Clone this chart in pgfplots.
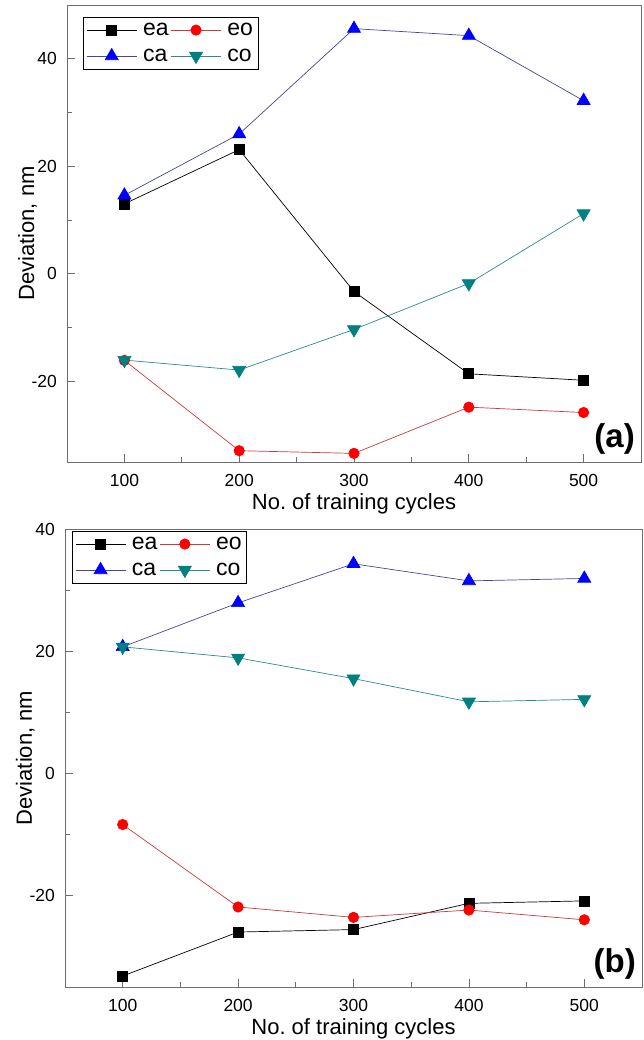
\documentclass[border=0pt]{standalone}
\usepackage{fontspec}
\setmainfont{Liberation Sans}
\usepackage{pgfplots}
\pgfplotsset{compat=1.18}
\frenchspacing
\definecolor{caline}{RGB}{70,70,160}
\definecolor{tealm}{RGB}{0,128,128}
\definecolor{coline}{RGB}{40,140,140}
\definecolor{eoline}{RGB}{200,60,60}
\definecolor{axgray}{RGB}{110,110,110}
\pgfplotsset{
 mystyle/.style={
  scale only axis,
  xmin=50, xmax=550, ymin=-35,
  xtick={100,200,300,400,500},
  ytick={-20,0,20,40},
  minor x tick num=1,
  minor y tick num=1,
  tick align=inside,
  xtick pos=bottom, ytick pos=left,
  axis line style={axgray, line width=0.9pt},
  every tick/.style={axgray, line width=0.8pt},
  major tick length=8pt, minor tick length=5pt,
  /pgf/number format/assume math mode=true,
  ticklabel style={font=\fontsize{17.5}{20}\selectfont},
  xticklabel style={inner sep=0pt, yshift=-12pt},
  yticklabel style={inner sep=0pt, xshift=-10pt},
  label style={font=\fontsize{22}{26}\selectfont},
  xlabel={No.\ of training cycles},
  ylabel={Deviation, nm},
  legend columns=2,
  legend cell align=left,
  legend style={draw=black, line width=0.6pt, inner xsep=3pt, inner ysep=4pt,
    row sep=8pt,
    font=\fontsize{23}{25}\selectfont, anchor=north west,
    /tikz/every odd column/.append style={column sep=4pt}},
  legend image code/.code={\draw[mark repeat=2,mark phase=2] plot coordinates {(0pt,0pt)(25pt,0pt)(50pt,0pt)};},
 },
 sea/.style={black, line width=0.7pt, mark=square*, mark size=5pt, mark options={fill=black, draw=black}},
 seo/.style={eoline, line width=0.7pt, mark=*, mark size=5.2pt, mark options={fill=red, draw=red}},
 sca/.style={caline, line width=0.7pt, mark=triangle*, mark size=7.5pt, mark options={fill=blue, draw=blue}},
 sco/.style={coline, line width=0.7pt, mark=triangle*, mark size=7.5pt, mark options={fill=tealm, draw=tealm, rotate=180}},
}
\begin{document}
\begin{tikzpicture}
\useasboundingbox (0pt,0pt) rectangle (644pt,1040pt);
% top panel (a)
\begin{axis}[mystyle,
  at={(67pt,578pt)}, anchor=south west,
  width=574pt, height=457pt,
  ymax=50,
  legend style={at={(axis description cs:0.028,0.974)}},
  xlabel style={at={(axis description cs:0.5,-0.105)}, anchor=base},
  ylabel style={at={(axis description cs:-0.052,0.5)}, anchor=south, inner sep=0pt},
]
\addplot[sea] coordinates {(100,13.0)(200,23.1)(300,-3.3)(400,-18.6)(500,-19.8)};
\addlegendentry{ea}
\addplot[seo] coordinates {(100,-16.1)(200,-32.9)(300,-33.4)(400,-24.8)(500,-25.8)};
\addlegendentry{eo}
\addplot[sca] coordinates {(100,14.6)(200,26.0)(300,45.6)(400,44.3)(500,32.2)};
\addlegendentry{ca}
\addplot[sco] coordinates {(100,-16.05)(200,-17.9)(300,-10.35)(400,-1.8)(500,11.2)};
\addlegendentry{co}
\node[anchor=south east, inner sep=0pt, font=\fontsize{33}{36}\selectfont\bfseries, xshift=-6pt, yshift=7pt] at (rel axis cs:1,0) {(a)};
\end{axis}
% bottom panel (b)
\begin{axis}[mystyle,
  at={(65pt,53pt)}, anchor=south west,
  width=577pt, height=458pt,
  ymax=40,
  legend style={at={(axis description cs:0.012,0.996)}},
  xlabel style={at={(axis description cs:0.5,-0.1048)}, anchor=base},
  ylabel style={at={(axis description cs:-0.052,0.5)}, anchor=south, inner sep=0pt},
]
\addplot[sea] coordinates {(100,-33.2)(200,-26.0)(300,-25.6)(400,-21.3)(500,-20.9)};
\addlegendentry{ea}
\addplot[seo] coordinates {(100,-8.4)(200,-21.9)(300,-23.6)(400,-22.4)(500,-24.0)};
\addlegendentry{eo}
\addplot[sca] coordinates {(100,20.7)(200,27.9)(300,34.3)(400,31.5)(500,31.9)};
\addlegendentry{ca}
\addplot[sco] coordinates {(100,20.7)(200,18.9)(300,15.5)(400,11.7)(500,12.1)};
\addlegendentry{co}
\node[anchor=south east, inner sep=0pt, font=\fontsize{33}{36}\selectfont\bfseries, xshift=-6pt, yshift=7pt] at (rel axis cs:1,0) {(b)};
\end{axis}
\end{tikzpicture}
\end{document}
